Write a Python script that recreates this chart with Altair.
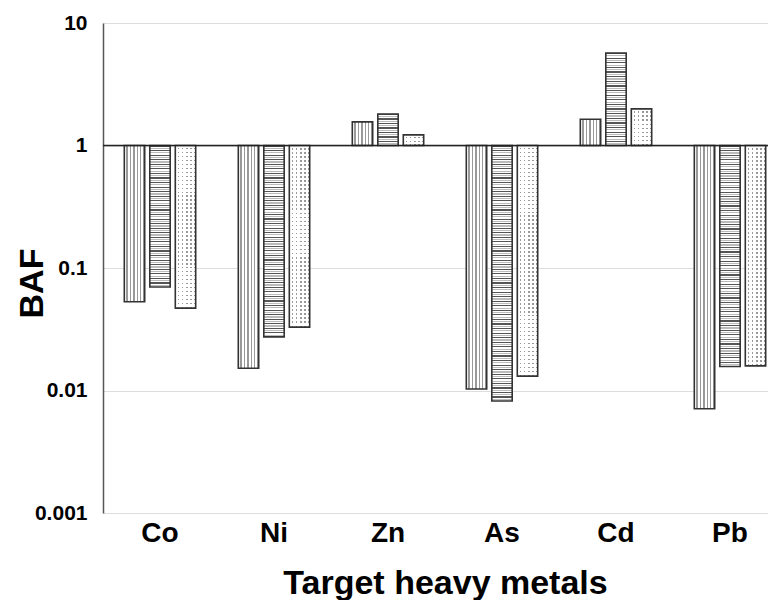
import altair as alt
import pandas as pd
import math

metals = ["Co", "Ni", "Zn", "As", "Cd", "Pb"]
series = ["A", "B", "C"]  # A: vertical lines, B: horizontal lines, C: dots
vals_a = [0.053, 0.0152, 1.56, 0.0103, 1.64, 0.0071]
vals_b = [0.070, 0.0274, 1.81, 0.0082, 5.69, 0.0157]
vals_c = [0.047, 0.0329, 1.22, 0.0131, 1.99, 0.0159]
y_ticks = [0.001, 0.01, 0.1, 1, 10]

rows = []
for s, vals in zip(series, [vals_a, vals_b, vals_c]):
    for m, v in zip(metals, vals):
        rows.append({"metal": m, "series": s, "value": v})
df = pd.DataFrame(rows)

H = 490
W = 665
PX_PER_DECADE = H / 4.0
TRANSP = "rgba(255,255,255,0)"


def grad(n, segs, vertical):
    stops = []
    tot = sum(l for l, _ in segs)
    for i in range(n):
        pos = i / n
        for length, color in segs:
            end = min(1.0, pos + (length / tot) / n)
            stops.append({"offset": round(pos, 5), "color": color})
            stops.append({"offset": round(end, 5), "color": color})
            pos = end
    g = {"gradient": "linear", "stops": stops, "x1": 0, "y1": 0}
    if vertical:
        g.update(x2=0, y2=1)
    else:
        g.update(x2=1, y2=0)
    return g


def nper(v, period):
    h = abs(math.log10(v)) * PX_PER_DECADE
    return max(1, int(round(h / period)))


xscale = alt.Scale(domain=metals, range=[0, 684], paddingInner=0.329, paddingOuter=0.1645)
yscale = alt.Scale(type="log", domain=[0.001, 10])
xaxis = alt.Axis(labelAngle=0, labelFont="Liberation Sans", labelFontSize=28, labelFontWeight="bold",
                 labelColor="black", ticks=False, domain=False, grid=False, labelPadding=6,
                 titleFont="Liberation Sans", titleFontSize=34, titleFontWeight="bold",
                 titleColor="black", titlePadding=19, titleX=342, titleAlign="center")
yaxis = alt.Axis(values=y_ticks, format="~g", labelFont="Liberation Sans", labelFontSize=21,
                 labelFontWeight="bold", labelColor="black", ticks=False, domainColor="#555",
                 domainWidth=1.5, gridColor="#dddddd", gridWidth=1.2, labelPadding=16,
                 titleFont="Liberation Sans", titleFontSize=34, titleFontWeight="bold",
                 titleColor="black", titleX=-71, titleY=260, titleAngle=270,
                 titleAlign="center", titleBaseline="middle")


def base(data):
    return alt.Chart(data).encode(
        x=alt.X("metal:N", sort=metals, scale=xscale, axis=xaxis, title="Target heavy metals"),
        xOffset=alt.XOffset("series:N", sort=series,
                            scale=alt.Scale(domain=series, paddingInner=0.2, paddingOuter=0.1)),
        y=alt.Y("value:Q", scale=yscale, axis=yaxis, title="BAF"),
        y2=alt.datum(1),
    )


STROKE = "#333333"
layers = []

# vertical-line bars
vgrad = grad(6, [(0.6, "#ffffff"), (0.4, "#999999")], vertical=False)
layers.append(base(df[df.series == "A"]).mark_bar(fill=vgrad, stroke=STROKE, strokeWidth=1.6))

# horizontal-line bars
dB = df[df.series == "B"]
for i in range(len(dB)):
    r = dB.iloc[[i]]
    n = nper(r["value"].iloc[0], 4.6)
    g = grad(n, [(1, "#555555"), (1, "#ffffff"), (1, "#bbbbbb"), (1, "#ffffff")], vertical=True)
    layers.append(base(r).mark_bar(fill=g, stroke=STROKE, strokeWidth=1.6))

# dotted bars
dC = df[df.series == "C"]
layers.append(base(dC).mark_bar(fill="white", strokeOpacity=0))
cols = grad(5, [(0.6, TRANSP), (0.4, "#9a9a9a")], vertical=False)
layers.append(base(dC).mark_bar(fill=cols, strokeOpacity=0))
for i in range(len(dC)):
    r = dC.iloc[[i]]
    n = nper(r["value"].iloc[0], 4.0)
    g = grad(n, [(0.6, "#ffffff"), (0.4, TRANSP)], vertical=True)
    layers.append(base(r).mark_bar(fill=g, strokeOpacity=0))
layers.append(base(dC).mark_bar(fillOpacity=0, stroke=STROKE, strokeWidth=1.6))

# baseline at 1
rule = alt.Chart(pd.DataFrame({"value": [1]})).mark_rule(color="#222222", strokeWidth=1.6).encode(
    y=alt.Y("value:Q", scale=yscale, axis=yaxis, title="BAF")
)
layers.append(rule)

chart = alt.layer(*layers).properties(
    width=W, height=H,
    autosize=alt.AutoSizeParams(type="none"),
    padding={"left": 95, "top": 15, "right": 0, "bottom": 87},
    background="white",
).configure_view(stroke=None)

chart.save("out.html", embed_options={"renderer": "svg", "actions": False})
